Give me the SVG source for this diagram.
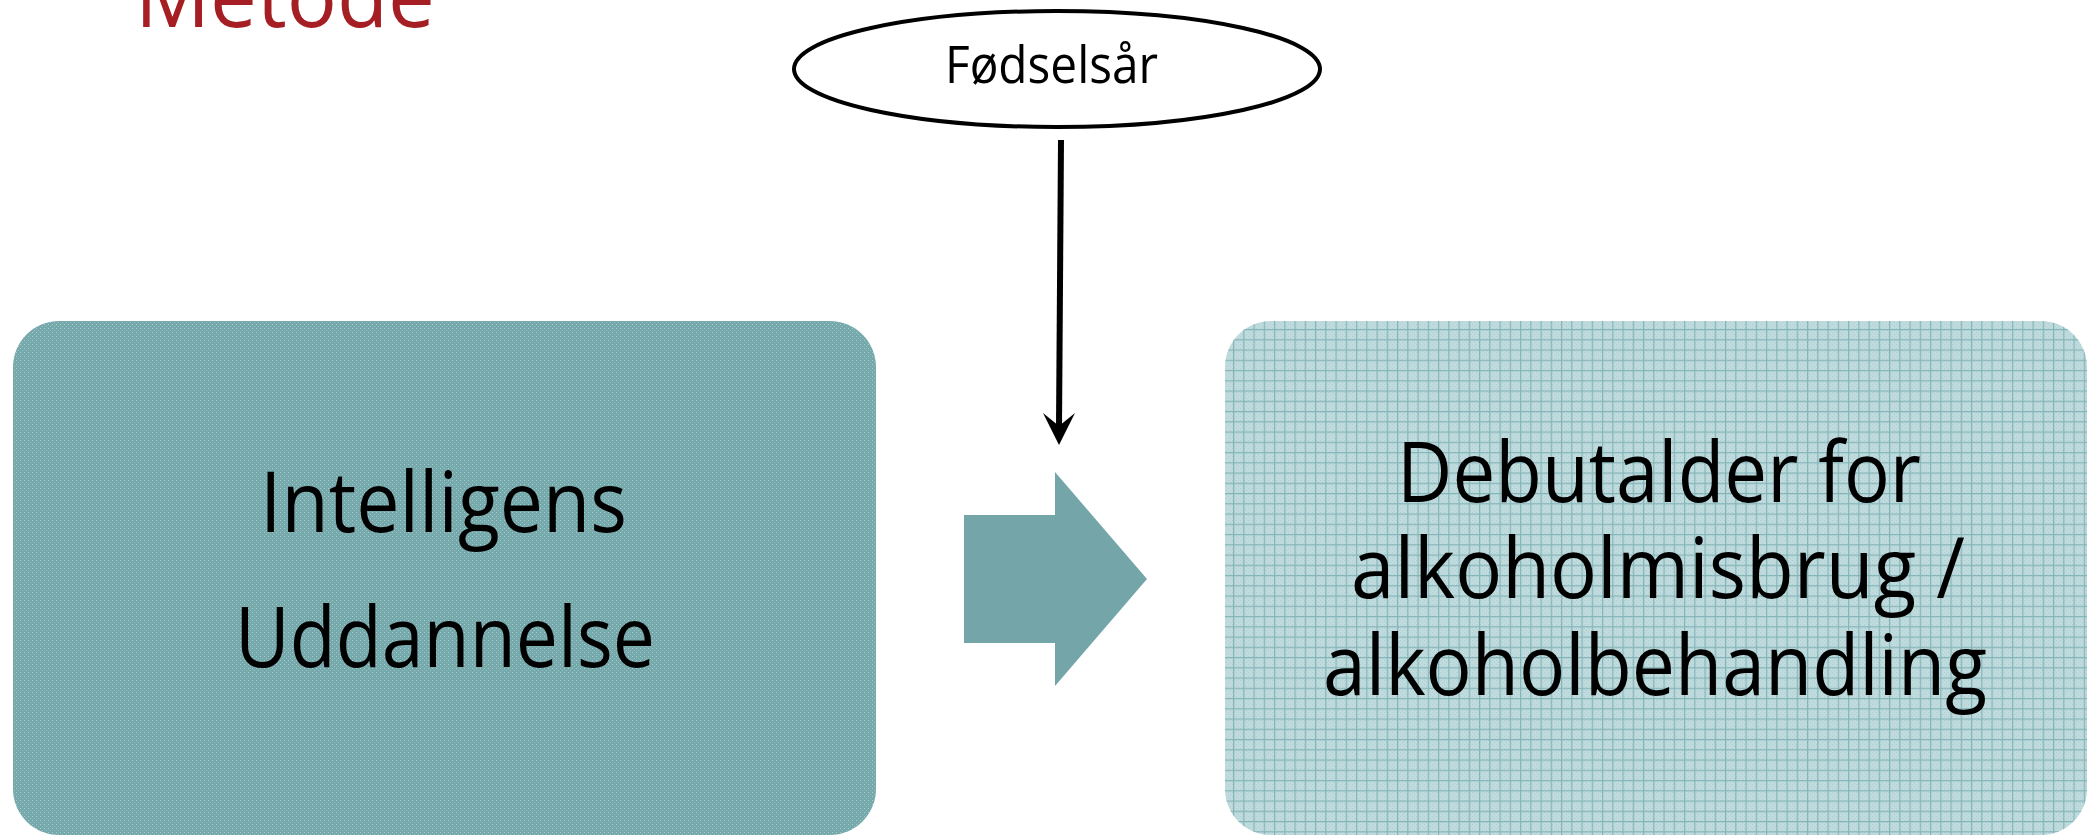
<svg xmlns="http://www.w3.org/2000/svg" width="2092" height="835" viewBox="0 0 2092 835">
  <style>
    .txt { font-family: "Open Sans", "Noto Sans", "DejaVu Sans", sans-serif; fill: #000000; }
    .big { font-size: 84px; }
    .title { font-family: "Open Sans", "Noto Sans", "DejaVu Sans", sans-serif; font-size: 88px; fill: #A51E23; }
    .conn { stroke: #000000; stroke-width: 6; fill: none; }
  </style>
  <defs>
    <pattern id="dots" width="4" height="4" patternUnits="userSpaceOnUse">
      <rect width="4" height="4" fill="#76A9AC"/>
      <rect x="0" y="0" width="1" height="1" fill="#A8CBCD"/>
      <rect x="2" y="2" width="1" height="1" fill="#98C0C2"/>
    </pattern>
    <pattern id="checker" width="4" height="4" patternUnits="userSpaceOnUse">
      <rect width="4" height="4" fill="#C0DBDD"/>
      <rect x="0" y="0" width="1" height="1" fill="#AFCFD1"/>
      <rect x="2" y="2" width="1" height="1" fill="#AFCFD1"/>
    </pattern>
    <pattern id="grid" x="1233" y="329" width="10.25" height="10.25" patternUnits="userSpaceOnUse">
      <rect x="0" y="0" width="1.2" height="10.25" fill="#84B5B8"/>
      <rect x="0" y="0" width="10.25" height="1.2" fill="#84B5B8"/>
    </pattern>
  </defs>

  <text class="title" x="135" y="27" textLength="300" lengthAdjust="spacingAndGlyphs">Metode</text>

  <g id="node-foedselsaar">
    <ellipse cx="1057" cy="69" rx="263" ry="58" fill="#FFFFFF" stroke="#000000" stroke-width="4"/>
    <text class="txt" x="945" y="83" font-size="51" textLength="213" lengthAdjust="spacingAndGlyphs">Fødselsår</text>
  </g>

  <g id="node-intelligens">
    <rect x="13" y="321" width="863" height="514" rx="46" ry="46" fill="url(#dots)"/>
    <text class="txt big" x="260" y="532" textLength="367" lengthAdjust="spacingAndGlyphs">Intelligens</text>
    <text class="txt big" x="235" y="667" textLength="420" lengthAdjust="spacingAndGlyphs">Uddannelse</text>
  </g>

  <g id="node-debutalder">
    <rect x="1225" y="321" width="862" height="514" rx="46" ry="46" fill="url(#checker)"/>
    <rect x="1225" y="321" width="862" height="514" rx="46" ry="46" fill="url(#grid)"/>
    <text class="txt big" x="1397" y="502" textLength="524" lengthAdjust="spacingAndGlyphs">Debutalder for</text>
    <text class="txt big" x="1351" y="598" textLength="614" lengthAdjust="spacingAndGlyphs">alkoholmisbrug /</text>
    <text class="txt big" x="1323" y="695" textLength="664" lengthAdjust="spacingAndGlyphs">alkoholbehandling</text>
  </g>

  <g id="node-blockarrow">
    <polygon points="964,515 1055,515 1055,472 1147,579 1055,686 1055,643 964,643" fill="#74A5A8"/>
  </g>

  <g id="connectors">
    <line class="conn" x1="1061" y1="140" x2="1059" y2="428"/>
    <polygon points="1059,445 1043,413 1059,426 1075,413" fill="#000000"/>
  </g>
</svg>
